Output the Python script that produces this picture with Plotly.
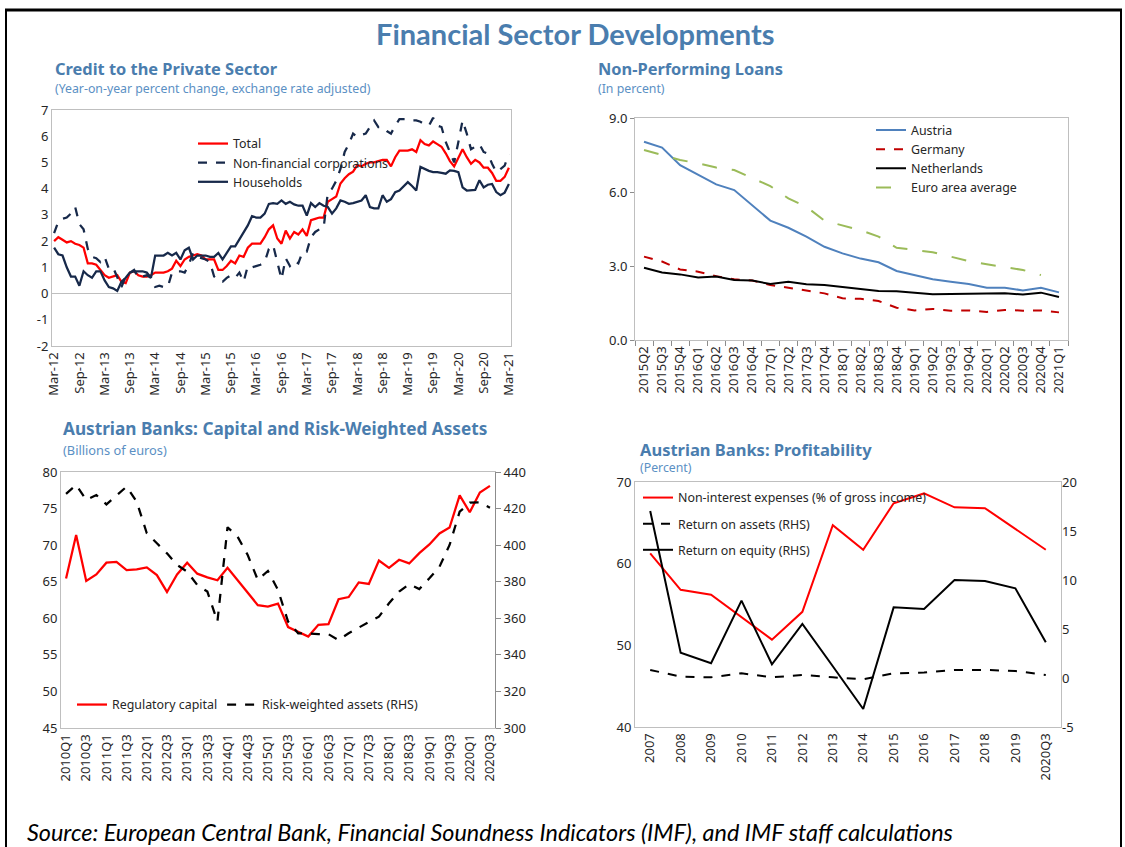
import plotly.graph_objects as go

W, H = 1125, 847

# ---------------- Data ----------------
month_names = ["Jan", "Feb", "Mar", "Apr", "May", "Jun", "Jul", "Aug", "Sep", "Oct", "Nov", "Dec"]
credit_dates = [f"{m}-{y:02d}" for y in range(12, 22) for m in month_names][2:2 + 109]

credit_total = [2.0, 2.15, 2.05, 1.95, 2.0, 1.9, 1.85, 1.75, 1.15, 1.15,
                1.1, 0.9, 0.7, 0.6, 0.65, 0.7, 0.45, 0.4, 0.8, 0.85,
                0.7, 0.65, 0.65, 0.7, 0.8, 0.8, 0.8, 0.85, 0.95, 1.25,
                1.05, 1.3, 1.4, 1.45, 1.5, 1.45, 1.3, 1.3, 1.3, 0.9,
                0.9, 1.05, 1.25, 1.15, 1.45, 1.4, 1.75, 1.9, 1.9, 1.9,
                2.15, 2.45, 2.6, 2.1, 1.9, 2.4, 2.1, 2.35, 2.25, 2.45,
                2.2, 2.8, 2.85, 2.9, 2.9, 3.5, 3.6, 3.7, 4.2, 4.4,
                4.55, 4.65, 4.9, 4.85, 4.95, 5.0, 5.0, 5.05, 5.1, 5.1,
                4.85, 5.2, 5.45, 5.45, 5.45, 5.5, 5.4, 5.85, 5.7, 5.65,
                5.8, 5.7, 5.6, 5.35, 5.05, 4.85, 5.2, 5.5, 5.2, 4.95,
                5.1, 5.0, 4.8, 4.8, 4.6, 4.3, 4.3, 4.45, 4.8]

credit_nfc = [2.3, 2.75, 2.85, 2.9, 3.05, 3.3, 2.65, 2.45, 1.7, 1.4,
              1.35, 1.2, 1.4, 0.95, 1.0, 0.65, 0.25, 0.65, 0.8, 0.9,
              0.6, 0.65, 0.7, 0.6, 0.25, 0.3, 0.25, 0.25, 0.8, 0.85,
              0.85, 0.8, 1.1, 1.55, 1.4, 1.35, 1.3, 1.2, 0.65, 0.5,
              0.45, 0.6, 0.7, 0.6, 0.8, 0.45, 1.05, 1.0, 1.05, 1.1,
              1.2, 1.7, 1.85, 1.2, 0.55, 1.35, 1.05, 1.25, 1.15, 1.6,
              1.6, 2.15, 2.35, 2.45, 2.5, 3.85, 4.0, 4.3, 4.75, 5.4,
              5.7, 6.1, 5.97, 6.05, 6.1, 6.35, 6.6, 6.35, 6.35, 6.2,
              6.1, 6.4, 6.65, 6.65, 6.65, 6.6, 6.6, 6.55, 6.45, 6.4,
              6.7, 6.4, 6.35, 5.78, 5.4, 5.0, 5.78, 6.6, 6.1, 5.5,
              5.6, 5.7, 5.4, 5.33, 4.95, 4.63, 4.75, 4.88, 5.33]

credit_hh = [1.75, 1.5, 1.45, 1.0, 0.65, 0.65, 0.3, 0.85, 0.7, 0.6,
             0.85, 0.85, 0.5, 0.25, 0.2, 0.1, 0.45, 0.6, 0.8, 0.85,
             0.85, 0.85, 0.8, 0.6, 1.45, 1.45, 1.45, 1.55, 1.45, 1.55,
             1.3, 1.65, 1.75, 1.3, 1.45, 1.45, 1.45, 1.4, 1.4, 1.55,
             1.3, 1.55, 1.8, 1.8, 2.05, 2.3, 2.6, 2.95, 2.9, 2.9,
             3.05, 3.42, 3.45, 3.42, 3.55, 3.42, 3.5, 3.4, 3.35, 3.35,
             2.97, 3.45, 3.3, 3.45, 3.35, 3.3, 3.05, 3.25, 3.55, 3.5,
             3.42, 3.45, 3.5, 3.55, 3.75, 3.3, 3.25, 3.25, 3.75, 3.5,
             3.6, 3.87, 3.93, 4.1, 4.25, 4.1, 3.93, 4.83, 4.75, 4.68,
             4.63, 4.63, 4.6, 4.57, 4.7, 4.68, 4.63, 4.05, 3.93, 3.93,
             3.95, 4.32, 4.05, 4.15, 4.18, 3.87, 3.75, 3.85, 4.18]

credit_yticks = [-2, -1, 0, 1, 2, 3, 4, 5, 6, 7]

npl_quarters = ["2015Q2", "2015Q3", "2015Q4", "2016Q1", "2016Q2", "2016Q3", "2016Q4",
                "2017Q1", "2017Q2", "2017Q3", "2017Q4", "2018Q1", "2018Q2", "2018Q3",
                "2018Q4", "2019Q1", "2019Q2", "2019Q3", "2019Q4", "2020Q1", "2020Q2",
                "2020Q3", "2020Q4", "2021Q1"]
npl_austria = [8.04, 7.8, 7.09, 6.69, 6.31, 6.08, 5.47, 4.84, 4.55, 4.19, 3.78, 3.51,
               3.3, 3.15, 2.8, 2.63, 2.46, 2.36, 2.27, 2.12, 2.12, 2.01, 2.12, 1.93]
npl_germany = [3.38, 3.18, 2.86, 2.77, 2.59, 2.46, 2.41, 2.23, 2.12, 2.0, 1.89, 1.69,
               1.67, 1.58, 1.31, 1.2, 1.26, 1.19, 1.2, 1.14, 1.22, 1.19, 1.2, 1.12]
npl_netherlands = [2.93, 2.74, 2.66, 2.53, 2.57, 2.43, 2.41, 2.27, 2.36, 2.26, 2.23, 2.14,
                   2.07, 1.99, 1.98, 1.92, 1.85, 1.86, 1.87, 1.86, 1.9, 1.84, 1.92, 1.74]
npl_euro = [7.7, 7.5, 7.3, 7.16, 6.99, 6.89, 6.55, 6.24, 5.74, 5.4, 4.84, 4.66,
            4.45, 4.19, 3.74, 3.65, 3.56, 3.38, 3.2, 3.07, 2.95, 2.84, 2.63, None]

cap_quarters = [f"{y}Q{q}" for y in range(2010, 2021) for q in range(1, 5)][:43]
reg_capital = [65.45, 71.4, 65.1, 66.0, 67.6, 67.7, 66.6, 66.7, 66.96, 65.9,
               63.6, 66.0, 67.6, 66.1, 65.6, 65.2, 66.9, 65.2, 63.6, 61.8,
               61.6, 62.0, 58.8, 58.2, 57.5, 59.1, 59.2, 62.6, 62.9, 64.9,
               64.7, 67.9, 66.9, 68.0, 67.5, 68.9, 70.1, 71.6, 72.4, 76.8,
               74.5, 77.2, 78.1]
rwa = [428.0, 432.9, 424.7, 427.4, 422.3, 427.4, 432.0, 423.8, 406.5, 401.0,
       395.5, 389.2, 385.5, 378.2, 374.6, 358.2, 409.8, 404.6, 394.6, 381.0,
       385.9, 375.5, 358.2, 351.8, 351.8, 351.3, 351.3, 348.1, 351.8, 354.9,
       357.8, 360.9, 368.2, 374.6, 378.6, 376.0, 381.9, 388.2, 400.1, 418.3,
       423.2, 423.4, 420.5]

prof_years = ["2007", "2008", "2009", "2010", "2011", "2012", "2013", "2014",
              "2015", "2016", "2017", "2018", "2019", "2020Q3"]
nonint_exp = [61.27, 56.8, 56.2, 53.5, 50.7, 54.1, 64.7, 61.7, 67.4, 68.6, 66.9, 66.8, 64.2, 61.7]
roa = [0.82, 0.14, 0.07, 0.48, 0.07, 0.31, 0.07, -0.14, 0.48, 0.55, 0.82, 0.82, 0.72, 0.31]
roe = [17.04, 2.59, 1.5, 7.89, 1.4, 5.51, 1.2, -3.16, 7.21, 7.04, 10.0, 9.9, 9.15, 3.64]
prof_rhs_ticks = [-5, 0, 5, 10, 15, 20]

# ---------------- Styling helpers ----------------
FONT = "Noto Sans"
TXT = "#262626"
BLUE = "#4A7DAE"
BLUE_SUB = "#5B90C4"
BORDER = "#BFBFBF"
AXIS = "#8C8C8C"
NAVY = "#17294A"


def xd(a, b):
    return [a / W, b / W]


def yd(top, bottom):
    return [1 - bottom / H, 1 - top / H]


def px(x):
    return x / W


def py(y):
    return 1 - y / H


def hyphen_labels(vals):
    return [str(v).replace("\u2212", "-") for v in vals]


fig = go.Figure()

# Chart 1
fig.add_trace(go.Scatter(x=credit_dates, y=credit_total, name="Total", mode="lines",
                         line=dict(color="#FF0000", width=2.25), xaxis="x", yaxis="y", legend="legend"))
fig.add_trace(go.Scatter(x=credit_dates, y=credit_nfc, name="Non-financial corporations", mode="lines",
                         line=dict(color=NAVY, width=2.25, dash="dash"), xaxis="x", yaxis="y", legend="legend"))
fig.add_trace(go.Scatter(x=credit_dates, y=credit_hh, name="Households", mode="lines",
                         line=dict(color=NAVY, width=2.25), xaxis="x", yaxis="y", legend="legend"))

# Chart 2
fig.add_trace(go.Scatter(x=npl_quarters, y=npl_austria, name="Austria", mode="lines",
                         line=dict(color="#4F81BD", width=2), xaxis="x2", yaxis="y2", legend="legend2"))
fig.add_trace(go.Scatter(x=npl_quarters, y=npl_germany, name="Germany", mode="lines",
                         line=dict(color="#C00000", width=2, dash="dash"), xaxis="x2", yaxis="y2", legend="legend2"))
fig.add_trace(go.Scatter(x=npl_quarters, y=npl_netherlands, name="Netherlands", mode="lines",
                         line=dict(color="#000000", width=2), xaxis="x2", yaxis="y2", legend="legend2"))
fig.add_trace(go.Scatter(x=npl_quarters, y=npl_euro, name="Euro area average", mode="lines",
                         line=dict(color="#9BBB59", width=2, dash="longdash"), xaxis="x2", yaxis="y2", legend="legend2"))

# Chart 3
fig.add_trace(go.Scatter(x=cap_quarters, y=reg_capital, name="Regulatory capital", mode="lines",
                         line=dict(color="#FF0000", width=2.25), xaxis="x3", yaxis="y3", legend="legend3"))
fig.add_trace(go.Scatter(x=cap_quarters, y=rwa, name="Risk-weighted assets (RHS)", mode="lines",
                         line=dict(color="#000000", width=2.25, dash="dash"), xaxis="x3", yaxis="y4", legend="legend3"))

# Chart 4
fig.add_trace(go.Scatter(x=prof_years, y=nonint_exp, name="Non-interest expenses (% of gross income)", mode="lines",
                         line=dict(color="#FF0000", width=2), xaxis="x4", yaxis="y5", legend="legend4",
                         legendgroup="a"))
fig.add_trace(go.Scatter(x=prof_years, y=roa, name="Return on assets (RHS)", mode="lines",
                         line=dict(color="#000000", width=2, dash="dash"), xaxis="x4", yaxis="y6", legend="legend4",
                         legendgroup="b"))
fig.add_trace(go.Scatter(x=prof_years, y=roe, name="Return on equity (RHS)", mode="lines",
                         line=dict(color="#000000", width=2), xaxis="x4", yaxis="y6", legend="legend4",
                         legendgroup="c"))

tickfont = dict(family=FONT, size=13, color=TXT)
legfont = dict(family=FONT, size=12.4, color=TXT)
box = dict(showline=True, mirror=True, linecolor=BORDER, linewidth=1, showgrid=False, zeroline=False,
           automargin=False)

layout = dict(
    width=W, height=H, autosize=False,
    margin=dict(l=0, r=0, t=0, b=0, pad=0, autoexpand=False),
    paper_bgcolor="white", plot_bgcolor="white", showlegend=True,
    font=dict(family=FONT, color=TXT),
    # chart 1
    xaxis=dict(domain=xd(52, 511), anchor="y", type="category", range=[-0.5, len(credit_dates) - 0.5],
               tickmode="array", tickvals=credit_dates[::6], tickangle=-90, ticks="",
               tickfont=tickfont, **box),
    yaxis=dict(domain=yd(110, 346), anchor="x", range=[-2, 7], tickmode="array",
               tickvals=credit_yticks, ticktext=hyphen_labels(credit_yticks), ticks="", tickfont=tickfont,
               showline=True, mirror=True, linecolor=BORDER, showgrid=False, automargin=False,
               zeroline=True, zerolinecolor=BORDER, zerolinewidth=1),
    # chart 2
    xaxis2=dict(domain=xd(635, 1068), anchor="y2", type="category", range=[-0.5, len(npl_quarters) - 0.5],
                tickangle=-90, ticks="outside", tickson="boundaries", ticklen=5, tickcolor=AXIS,
                tickfont=tickfont, **box),
    yaxis2=dict(domain=yd(118, 340), anchor="x2", range=[0, 9], tickvals=[0, 3, 6, 9], tickformat=".1f",
                ticks="outside", ticklen=4, tickcolor=AXIS, tickfont=tickfont, **box),
    # chart 3
    xaxis3=dict(domain=xd(61, 495), anchor="y3", type="category", range=[-0.5, len(cap_quarters) - 0.5],
                tickmode="array", tickvals=cap_quarters[::2], tickangle=-90, ticks="",
                tickfont=tickfont, **box),
    yaxis3=dict(domain=yd(472, 728), anchor="x3", range=[45, 80], dtick=5, ticks="", tickfont=tickfont, **box),
    yaxis4=dict(overlaying="y3", anchor="x3", side="right", range=[300, 440], dtick=20,
                ticks="outside", ticklen=5, tickcolor=AXIS, showline=True, linecolor=AXIS,
                showgrid=False, zeroline=False, tickfont=tickfont, automargin=False),
    # chart 4
    xaxis4=dict(domain=xd(635, 1061), anchor="y5", type="category", range=[-0.5, len(prof_years) - 0.5],
                tickangle=-90, ticks="", tickfont=tickfont, **box),
    yaxis5=dict(domain=yd(482, 727), anchor="x4", range=[40, 70], dtick=10, ticks="", tickfont=tickfont, **box),
    yaxis6=dict(overlaying="y5", anchor="x4", side="right", range=[-5, 20], tickmode="array",
                tickvals=prof_rhs_ticks, ticktext=hyphen_labels(prof_rhs_ticks), ticks="",
                showline=False, showgrid=False, zeroline=False, tickfont=tickfont, automargin=False),
    legend=dict(x=px(193), y=py(129), xanchor="left", yanchor="top", bgcolor="rgba(0,0,0,0)",
                font=legfont, tracegroupgap=0),
    legend2=dict(x=px(871), y=py(115.5), xanchor="left", yanchor="top", bgcolor="rgba(0,0,0,0)",
                 font=legfont),
    legend3=dict(x=px(72), y=py(690), xanchor="left", yanchor="top", orientation="h",
                 bgcolor="rgba(0,0,0,0)", font=legfont),
    legend4=dict(x=px(638), y=py(483), xanchor="left", yanchor="top", bgcolor="rgba(0,0,0,0)",
                 font=legfont, traceorder="grouped", tracegroupgap=7),
)
fig.update_layout(**layout)

# Titles and notes
ann = [
    dict(text="<b>Financial Sector Developments</b>", x=px(575), y=py(34), xanchor="center",
         font=dict(family="Lato", size=29, color=BLUE)),
    dict(text="<b>Credit to the Private Sector</b>", x=px(53), y=py(69), xanchor="left",
         font=dict(family=FONT, size=16.4, color=BLUE)),
    dict(text="(Year-on-year percent change, exchange rate adjusted)", x=px(53), y=py(88), xanchor="left",
         font=dict(family=FONT, size=12.3, color=BLUE_SUB)),
    dict(text="<b>Non-Performing Loans</b>", x=px(596), y=py(69), xanchor="left",
         font=dict(family=FONT, size=16.4, color=BLUE)),
    dict(text="(In percent)", x=px(596), y=py(88), xanchor="left",
         font=dict(family=FONT, size=12.3, color=BLUE_SUB)),
    dict(text="<b>Austrian Banks: Capital and Risk-Weighted Assets</b>", x=px(61), y=py(429), xanchor="left",
         font=dict(family=FONT, size=17.2, color=BLUE)),
    dict(text="(Billions of euros)", x=px(61), y=py(450), xanchor="left",
         font=dict(family=FONT, size=12.8, color=BLUE_SUB)),
    dict(text="<b>Austrian Banks: Profitability</b>", x=px(638), y=py(449), xanchor="left",
         font=dict(family=FONT, size=16.5, color=BLUE)),
    dict(text="(Percent)", x=px(638), y=py(468), xanchor="left",
         font=dict(family=FONT, size=12.3, color=BLUE_SUB)),
    dict(text="<i>Source: European Central Bank, Financial Soundness Indicators (IMF), and IMF staff calculations</i>",
         x=px(25), y=py(832), xanchor="left", font=dict(family="Lato", size=23.4, color="#000000")),
]
for a in ann:
    a.update(xref="paper", yref="paper", yanchor="middle", showarrow=False)
fig.update_layout(annotations=ann)

# Outer frame
frame_shapes = [
    dict(type="line", xref="paper", yref="paper", x0=px(5), x1=px(1122), y0=py(10), y1=py(10),
         line=dict(color="black", width=3)),
    dict(type="line", xref="paper", yref="paper", x0=px(6), x1=px(6), y0=py(10), y1=py(847),
         line=dict(color="black", width=2)),
    dict(type="line", xref="paper", yref="paper", x0=px(1121), x1=px(1121), y0=py(10), y1=py(847),
         line=dict(color="black", width=2)),
]
fig.update_layout(shapes=frame_shapes)

# remove the browser's default page margin so the figure sits at the window origin
fig.write_html("out.html", config={"displayModeBar": False},
               post_script="document.body.style.margin='0';document.body.style.overflow='hidden';")
